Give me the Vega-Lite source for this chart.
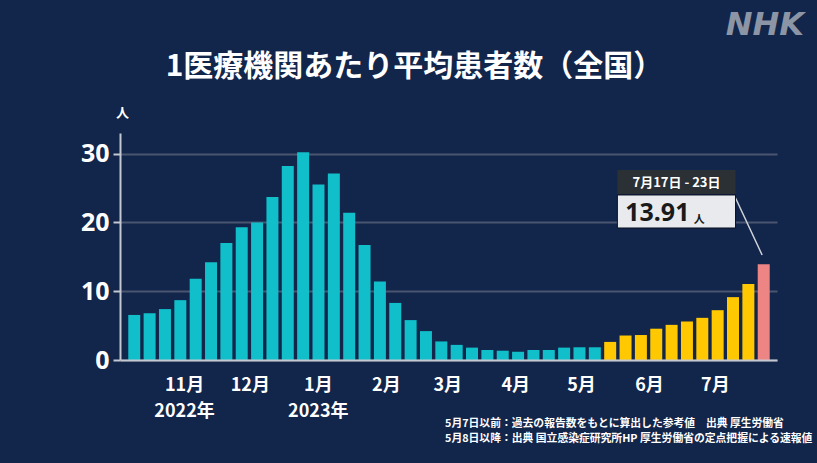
{
  "$schema": "https://vega.github.io/schema/vega-lite/v6.json",
  "autosize": "none",
  "width": 657,
  "height": 227,
  "padding": {"left": 120, "top": 133, "right": 40, "bottom": 103},
  "background": "#12254a",
  "config": {
    "view": {"stroke": null},
    "font": "Noto Sans CJK JP"
  },
  "data": {
    "values": [
      {"week": "2022-10-03", "value": 6.55, "type": "参考値"},
      {"week": "2022-10-10", "value": 6.8, "type": "参考値"},
      {"week": "2022-10-17", "value": 7.4, "type": "参考値"},
      {"week": "2022-10-24", "value": 8.7, "type": "参考値"},
      {"week": "2022-10-31", "value": 11.8, "type": "参考値"},
      {"week": "2022-11-07", "value": 14.2, "type": "参考値"},
      {"week": "2022-11-14", "value": 17.0, "type": "参考値"},
      {"week": "2022-11-21", "value": 19.3, "type": "参考値"},
      {"week": "2022-11-28", "value": 20.0, "type": "参考値"},
      {"week": "2022-12-05", "value": 23.7, "type": "参考値"},
      {"week": "2022-12-12", "value": 28.2, "type": "参考値"},
      {"week": "2022-12-19", "value": 30.2, "type": "参考値"},
      {"week": "2022-12-26", "value": 25.5, "type": "参考値"},
      {"week": "2023-01-02", "value": 27.1, "type": "参考値"},
      {"week": "2023-01-09", "value": 21.4, "type": "参考値"},
      {"week": "2023-01-16", "value": 16.7, "type": "参考値"},
      {"week": "2023-01-23", "value": 11.4, "type": "参考値"},
      {"week": "2023-01-30", "value": 8.3, "type": "参考値"},
      {"week": "2023-02-06", "value": 5.8, "type": "参考値"},
      {"week": "2023-02-13", "value": 4.2, "type": "参考値"},
      {"week": "2023-02-20", "value": 2.7, "type": "参考値"},
      {"week": "2023-02-27", "value": 2.2, "type": "参考値"},
      {"week": "2023-03-06", "value": 1.8, "type": "参考値"},
      {"week": "2023-03-13", "value": 1.45, "type": "参考値"},
      {"week": "2023-03-20", "value": 1.35, "type": "参考値"},
      {"week": "2023-03-27", "value": 1.2, "type": "参考値"},
      {"week": "2023-04-03", "value": 1.45, "type": "参考値"},
      {"week": "2023-04-10", "value": 1.45, "type": "参考値"},
      {"week": "2023-04-17", "value": 1.8, "type": "参考値"},
      {"week": "2023-04-24", "value": 1.85, "type": "参考値"},
      {"week": "2023-05-01", "value": 1.85, "type": "参考値"},
      {"week": "2023-05-08", "value": 2.63, "type": "定点"},
      {"week": "2023-05-15", "value": 3.56, "type": "定点"},
      {"week": "2023-05-22", "value": 3.63, "type": "定点"},
      {"week": "2023-05-29", "value": 4.55, "type": "定点"},
      {"week": "2023-06-05", "value": 5.11, "type": "定点"},
      {"week": "2023-06-12", "value": 5.60, "type": "定点"},
      {"week": "2023-06-19", "value": 6.13, "type": "定点"},
      {"week": "2023-06-26", "value": 7.24, "type": "定点"},
      {"week": "2023-07-03", "value": 9.14, "type": "定点"},
      {"week": "2023-07-10", "value": 11.04, "type": "定点"},
      {"week": "2023-07-17", "value": 13.91, "type": "最新"}
    ]
  },
  "layer": [
    {
      "mark": {"type": "bar", "width": 12, "xOffset": 7.8},
      "encoding": {
        "x": {
          "field": "week",
          "type": "temporal",
          "scale": {
            "type": "utc",
            "domain": [
              {"year": 2022, "month": 10, "date": 2, "hours": 8, "utc": true},
              {"year": 2023, "month": 7, "date": 24, "hours": 8, "utc": true}
            ]
          },
          "axis": {
            "title": null,
            "values": [
              {"year": 2022, "month": 11, "date": 1, "utc": true},
              {"year": 2022, "month": 12, "date": 1, "utc": true},
              {"year": 2023, "month": 1, "date": 1, "utc": true},
              {"year": 2023, "month": 2, "date": 1, "utc": true},
              {"year": 2023, "month": 3, "date": 1, "utc": true},
              {"year": 2023, "month": 4, "date": 1, "utc": true},
              {"year": 2023, "month": 5, "date": 1, "utc": true},
              {"year": 2023, "month": 6, "date": 1, "utc": true},
              {"year": 2023, "month": 7, "date": 1, "utc": true}
            ],
            "labelExpr": "utcmonth(datum.value) == 10 ? ['11月', '2022年'] : utcmonth(datum.value) == 0 ? ['1月', '2023年'] : (utcmonth(datum.value) + 1) + '月'",
            "labelOffset": -6,
            "labelPadding": 16,
            "labelFontSize": 18,
            "labelFontWeight": "bold",
            "labelColor": "#ffffff",
            "labelFont": "Noto Sans CJK JP",
            "labelLineHeight": 26,
            "labelOverlap": false,
            "labelFlush": false,
            "ticks": false,
            "grid": false,
            "domainColor": "#c4c8d0",
            "domainWidth": 2,
            "zindex": 1
          }
        },
        "y": {
          "field": "value",
          "type": "quantitative",
          "scale": {"domain": [0, 33], "nice": false},
          "axis": {
            "title": "人",
            "titleAngle": 0,
            "titleX": 2,
            "titleY": -21,
            "titleAlign": "center",
            "titleBaseline": "middle",
            "titleFontSize": 13,
            "titleFontWeight": "bold",
            "titleColor": "#ffffff",
            "titleFont": "Noto Sans CJK JP",
            "values": [0, 10, 20, 30],
            "labelFontSize": 25,
            "labelFontWeight": "bold",
            "labelColor": "#ffffff",
            "labelFont": "Noto Sans",
            "labelPadding": 4,
            "tickSize": 7,
            "tickColor": "#c4c8d0",
            "tickWidth": 2,
            "domainColor": "#c4c8d0",
            "domainWidth": 2,
            "gridColor": "#4a5670",
            "gridWidth": 2
          }
        },
        "color": {
          "field": "type",
          "type": "nominal",
          "scale": {"domain": ["参考値", "定点", "最新"], "range": ["#10bfca", "#ffc800", "#ee8585"]},
          "legend": null
        }
      }
    },
    {
      "data": {"values": [{}]},
      "mark": {"type": "rule", "color": "#d0d4da", "strokeWidth": 1.5},
      "encoding": {
        "x": {"datum": {"year": 2023, "month": 7, "date": 7, "hours": 17, "utc": true}, "type": "temporal"},
        "x2": {"datum": {"year": 2023, "month": 7, "date": 19, "hours": 20, "utc": true}},
        "y": {"datum": 23.55, "type": "quantitative"},
        "y2": {"datum": 15.26}
      }
    },
    {
      "data": {"values": [{}]},
      "mark": {"type": "rect", "color": "#2b3035"},
      "encoding": {
        "x": {"datum": {"year": 2023, "month": 5, "date": 14, "hours": 20, "utc": true}, "type": "temporal"},
        "x2": {"datum": {"year": 2023, "month": 7, "date": 7, "hours": 17, "utc": true}},
        "y": {"datum": 27.62, "type": "quantitative"},
        "y2": {"datum": 24.13}
      }
    },
    {
      "data": {"values": [{}]},
      "mark": {"type": "rect", "color": "#e8eaee", "stroke": "#0a1020", "strokeWidth": 1},
      "encoding": {
        "x": {"datum": {"year": 2023, "month": 5, "date": 14, "hours": 20, "utc": true}, "type": "temporal"},
        "x2": {"datum": {"year": 2023, "month": 7, "date": 7, "hours": 17, "utc": true}},
        "y": {"datum": 23.99, "type": "quantitative"},
        "y2": {"datum": 19.19}
      }
    },
    {
      "data": {"values": [{}]},
      "mark": {"type": "text", "text": "7月17日 - 23日", "color": "#ffffff", "fontSize": 13, "fontWeight": "bold", "font": "Noto Sans CJK JP", "align": "center", "baseline": "middle"},
      "encoding": {
        "x": {"datum": {"year": 2023, "month": 6, "date": 10, "hours": 19, "utc": true}, "type": "temporal"},
        "y": {"datum": 25.8, "type": "quantitative"}
      }
    },
    {
      "data": {"values": [{}]},
      "mark": {"type": "text", "text": "13.91", "color": "#1a1a1a", "fontSize": 25, "fontWeight": "bold", "font": "Noto Sans", "align": "left", "baseline": "middle"},
      "encoding": {
        "x": {"datum": {"year": 2023, "month": 5, "date": 18, "hours": 10, "utc": true}, "type": "temporal"},
        "y": {"datum": 21.44, "type": "quantitative"}
      }
    },
    {
      "data": {"values": [{}]},
      "mark": {"type": "text", "text": "人", "color": "#1a1a1a", "fontSize": 11, "fontWeight": "bold", "font": "Noto Sans CJK JP", "align": "center", "baseline": "middle"},
      "encoding": {
        "x": {"datum": {"year": 2023, "month": 6, "date": 21, "hours": 3, "utc": true}, "type": "temporal"},
        "y": {"datum": 20.35, "type": "quantitative"}
      }
    },
    {
      "data": {"values": [{}]},
      "mark": {"type": "text", "text": "1医療機関あたり平均患者数（全国）", "color": "#ffffff", "fontSize": 30, "fontWeight": "bold", "font": "Noto Sans CJK JP", "align": "center", "baseline": "middle"},
      "encoding": {
        "x": {"datum": {"year": 2023, "month": 2, "date": 11, "hours": 8, "utc": true}, "type": "temporal"},
        "y": {"datum": 42.59, "type": "quantitative"}
      }
    },
    {
      "data": {"values": [{}]},
      "mark": {"type": "text", "text": "NHK", "color": "#8b95a6", "fontSize": 32, "fontWeight": "bold", "fontStyle": "italic", "font": "DejaVu Sans", "align": "left", "baseline": "middle"},
      "encoding": {
        "x": {"datum": {"year": 2023, "month": 7, "date": 3, "hours": 6, "utc": true}, "type": "temporal"},
        "y": {"datum": 48.7, "type": "quantitative"}
      }
    },
    {
      "data": {"values": [{}]},
      "mark": {"type": "text", "text": ["5月7日以前：過去の報告数をもとに算出した参考値　出典 厚生労働省", "5月8日以降：出典 国立感染症研究所HP 厚生労働省の定点把握による速報値"], "color": "#ffffff", "fontSize": 10.8, "fontWeight": "bold", "font": "Noto Sans CJK JP", "align": "left", "baseline": "top", "lineHeight": 15},
      "encoding": {
        "x": {"datum": {"year": 2023, "month": 2, "date": 25, "hours": 6, "utc": true}, "type": "temporal"},
        "y": {"datum": -8.43, "type": "quantitative"}
      }
    }
  ]
}
